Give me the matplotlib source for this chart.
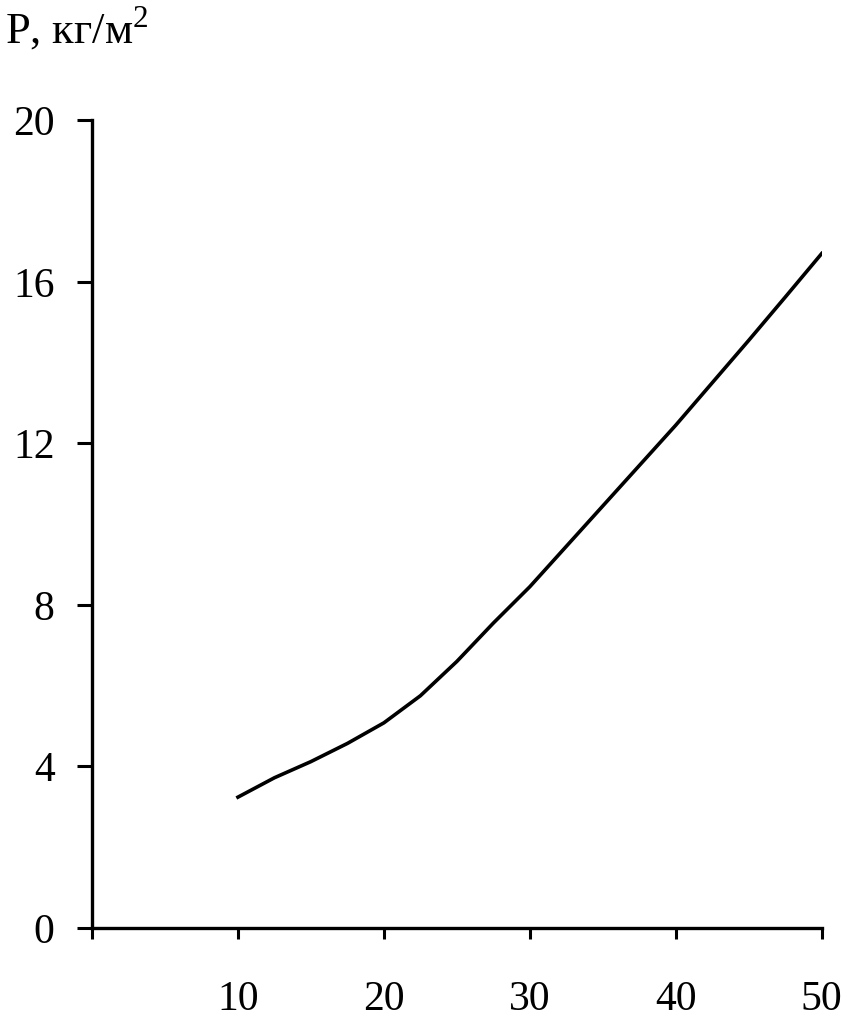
import numpy as np
import matplotlib
matplotlib.use("Agg")
import matplotlib.pyplot as plt

plt.rcParams['font.family'] = ['Liberation Serif', 'DejaVu Serif']
plt.rcParams['mathtext.fontset'] = 'custom'
plt.rcParams['mathtext.rm'] = 'Liberation Serif'

# values
speed = [10, 12.5, 15, 17.5, 20, 22.5, 25, 27.5, 30, 32.5, 35, 37.5, 40, 42.5, 45, 47.5, 50]
pressure = [3.24, 3.72, 4.12, 4.57, 5.08, 5.75, 6.6, 7.55, 8.45, 9.45, 10.45, 11.45, 12.45, 13.5, 14.55, 15.62, 16.7]

x_ticks = [0, 10, 20, 30, 40, 50]
x_labels = ['', '10', '20', '30', '40', '50']
y_ticks = [0, 4, 8, 12, 16, 20]

fig = plt.figure(figsize=(8.48, 10.19), dpi=100)
ax = fig.add_axes([0.1085, 0.0893, 0.8605, 0.7927])

ax.plot(speed, pressure, color='black', lw=2.6)

ax.set_xlim(0, 50)
ax.set_ylim(0, 20)
ax.set_xticks(x_ticks)
ax.set_xticklabels(x_labels)
ax.set_yticks(y_ticks)

for side in ['top', 'right']:
    ax.spines[side].set_visible(False)
for side in ['left', 'bottom']:
    ax.spines[side].set_linewidth(2.4)
    ax.spines[side].set_clip_on(False)

ax.tick_params(axis='y', direction='out', length=11, width=2.2, pad=16, labelsize=30)
ax.tick_params(axis='x', direction='out', length=8, width=2.2, pad=30, labelsize=30)

fig.text(0.006, 0.957, 'P, кг/м$^{2}$', fontsize=32, ha='left', va='baseline')

fig.savefig('out.png', dpi=100)
